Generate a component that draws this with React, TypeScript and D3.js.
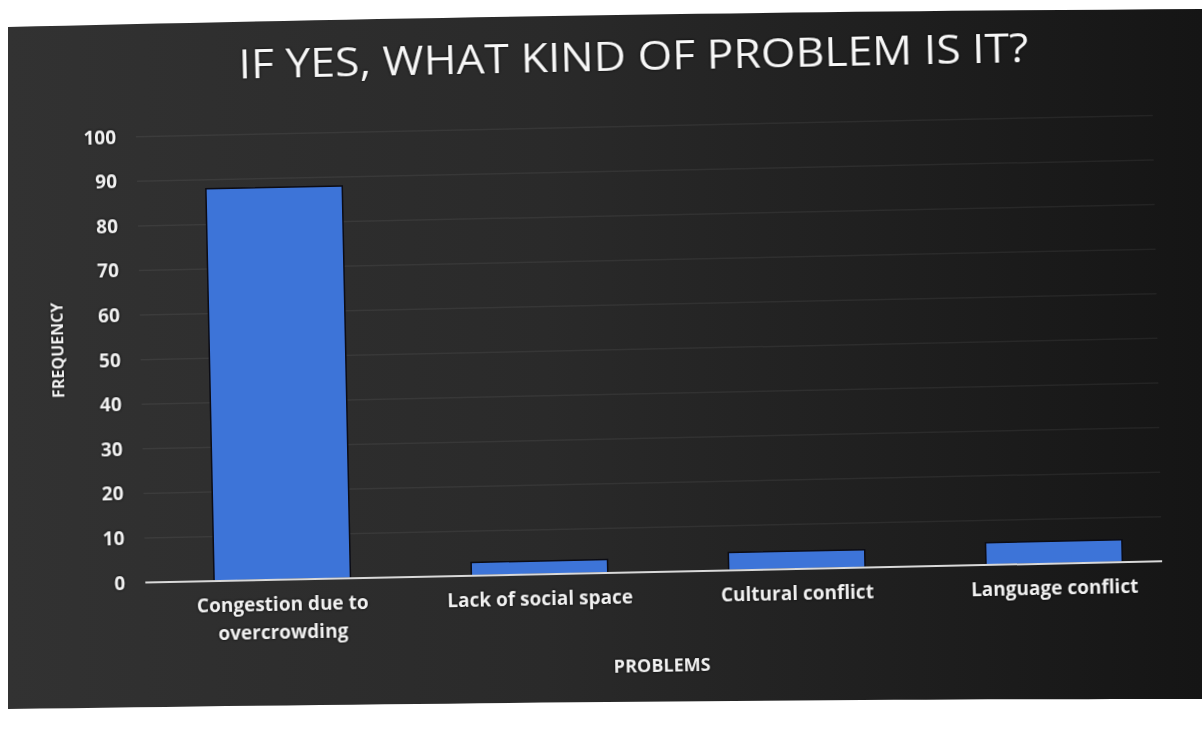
import React from "react";
import * as d3 from "d3";

const categories = [
  ["Congestion due to", "overcrowding"],
  ["Lack of social space"],
  ["Cultural conflict"],
  ["Language conflict"],
];
const values = [88, 3, 4, 5];
const yTicks = [0, 10, 20, 30, 40, 50, 60, 70, 80, 90, 100];
const title = "IF YES, WHAT KIND OF PROBLEM IS IT?";
const xTitle = "PROBLEMS";
const yTitle = "FREQUENCY";

export default function App() {
  const W = 1202;
  const H = 729;
  const y0 = 572;
  const y100 = 126;
  const xLeft = 141;
  const xRight = 1158;
  const font = "'Open Sans', 'Noto Sans', sans-serif";

  const y = d3.scaleLinear().domain([0, 100]).range([y0, y100]);
  const x = d3
    .scaleBand<number>()
    .domain(d3.range(categories.length))
    .range([148, 1180])
    .paddingInner(0.47)
    .paddingOuter(0.24);

  const bg = "M8,27 C300,20 700,12 1202,9 L1202,699 C900,699 500,702 8,709 Z";
  const shadow = "drop-shadow(0px 0px 1.5px rgba(0,0,0,0.9))";

  return (
    <svg
      width={W}
      height={H}
      style={{ position: "absolute", left: 0, top: 0, background: "#ffffff" }}
    >
      <defs>
        <linearGradient id="bgGrad" x1="0" x2="1" y1="0" y2="0">
          <stop offset="0" stopColor="#323232" />
          <stop offset="0.45" stopColor="#2a2a2a" />
          <stop offset="1" stopColor="#151515" />
        </linearGradient>
      </defs>
      <path d={bg} fill="url(#bgGrad)" />
      <g transform="rotate(-1.2, 650, 370)">
        {/* gridlines */}
        {yTicks.slice(1).map((t) => (
          <line
            key={"g" + t}
            x1={xLeft}
            x2={xRight}
            y1={y(t)}
            y2={y(t)}
            stroke="rgba(255,255,255,0.06)"
            strokeWidth={1.5}
          />
        ))}
        {/* bars */}
        {values.map((v, i) => (
          <rect
            key={"b" + i}
            x={x(i)}
            y={y(v)}
            width={x.bandwidth()}
            height={y0 - y(v)}
            fill="#3d74d8"
            stroke="#0c0c14"
            strokeWidth={1.5}
          />
        ))}
        {/* axis line */}
        <line x1={xLeft} x2={xRight} y1={y0} y2={y0} stroke="#d9d9d9" strokeWidth={2} />
        {/* y tick labels */}
        {yTicks.map((t) => (
          <text
            key={"t" + t}
            x={121}
            y={y(t)}
            dy="0.35em"
            textAnchor="end"
            fill="#f2f2f2"
            fontFamily={font}
            fontWeight={700}
            fontSize={19}
            style={{ filter: shadow }}
          >
            {t}
          </text>
        ))}
        {/* category labels */}
        {categories.map((lines, i) => (
          <text
            key={"c" + i}
            x={(x(i) as number) + x.bandwidth() / 2}
            y={603}
            textAnchor="middle"
            fill="#f2f2f2"
            fontFamily={font}
            fontWeight={700}
            fontSize={19}
            style={{ filter: shadow }}
          >
            {lines.map((l, j) => (
              <tspan key={j} x={(x(i) as number) + x.bandwidth() / 2} dy={j === 0 ? 0 : 28}>
                {l}
              </tspan>
            ))}
          </text>
        ))}
        {/* axis titles */}
        <text
          x={656}
          y={672}
          textAnchor="middle"
          fill="#f2f2f2"
          fontFamily={font}
          fontWeight={700}
          fontSize={18}
          style={{ filter: shadow }}
        >
          {xTitle}
        </text>
        <text
          transform={`translate(64, 338) rotate(-90)`}
          textAnchor="middle"
          fill="#f2f2f2"
          fontFamily={font}
          fontWeight={700}
          fontSize={16}
          style={{ filter: shadow }}
        >
          {yTitle}
        </text>
        {/* title */}
        <text
          x={640}
          y={70}
          textAnchor="middle"
          fill="#f7f7f7"
          fontFamily={font}
          fontWeight={400}
          fontSize={40}
          textLength={790}
          lengthAdjust="spacingAndGlyphs"
          style={{ filter: shadow }}
        >
          {title}
        </text>
      </g>
    </svg>
  );
}
